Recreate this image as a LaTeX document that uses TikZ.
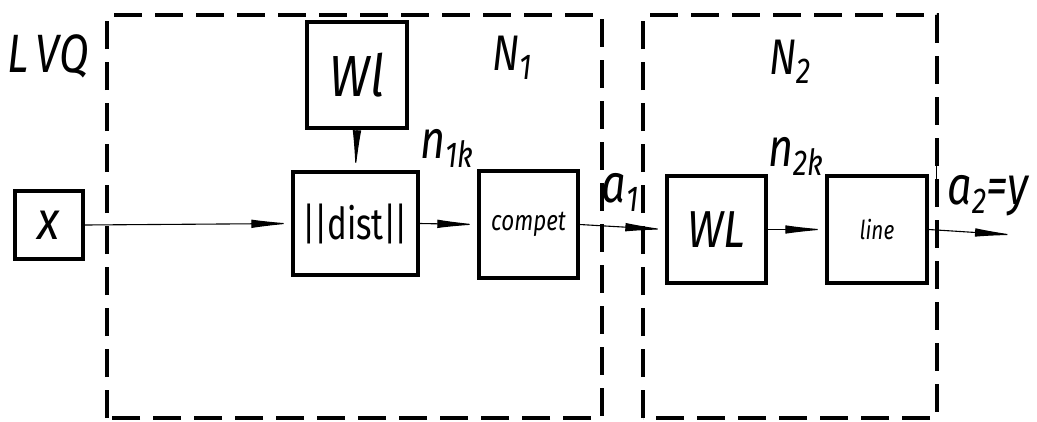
\documentclass[tikz,border=0pt]{standalone}
\usepackage{fontspec}
\setmainfont{Fira Sans}
\usetikzlibrary{arrows.meta}
\newcommand{\sbs}[1]{\raisebox{-9pt}{\fontsize{36}{36}\selectfont #1}}
\tikzset{
  blk/.style={draw, line width=3.4pt, inner sep=0pt, font=\itshape},
  grp/.style={line width=3.8pt, dash pattern=on 28pt off 13pt},
  conn/.style={line width=1.1pt, -{Latex[length=40pt,width=8.5pt]}},
  lbl/.style={inner sep=0pt, font=\itshape, xscale=0.8},
}
\begin{document}
\begin{tikzpicture}[x=1pt,y=-1pt]
\useasboundingbox (0,0) rectangle (1037,421);
% dashed groups
\draw[grp] (107,418) -- (107,15) -- (602,15) -- (602,418) -- cycle;
\draw[grp] (643,418) -- (643,15) -- (937,15) -- (937,418) -- cycle;
\draw[line width=0.8pt] (936,155) -- (936,200);
% blocks
\node[blk, minimum width=68pt, minimum height=68pt] (x) at (49,225) {\fontsize{54}{54}\selectfont\scalebox{0.85}[1]{x}};
\node[blk, minimum width=100pt, minimum height=106pt] (wl) at (357,75) {\fontsize{58}{58}\selectfont\scalebox{0.85}[1]{Wl}};
\node[blk, minimum width=125pt, minimum height=103pt] (dist) at (355.5,223.5) {\fontsize{44}{44}\selectfont\upshape\scalebox{0.75}[1]{|\kern-3pt|dist|\kern-3pt|}};
\node[blk, minimum width=99pt, minimum height=107pt] (compet) at (528.5,224.5) {\fontsize{28}{28}\selectfont\scalebox{0.8}[1]{compet}};
\node[blk, minimum width=99pt, minimum height=107pt] (WL) at (716.5,229.5) {\fontsize{52}{52}\selectfont\scalebox{0.85}[1]{WL}};
\node[blk, minimum width=100pt, minimum height=107pt] (line) at (877,229.5) {\fontsize{26}{26}\selectfont\scalebox{0.8}[1]{line}};
\coordinate (out) at (1015,235);
% connectors
\draw[conn] (x.east) -- (dist.west);
\draw[conn] (wl.south) -- (dist.north);
\draw[conn] (dist.east) -- (compet.west);
\draw[conn] (compet.east) -- (WL.west);
\draw[conn] (WL.east) -- (line.west);
\draw[conn] (line.east) -- (out);
% labels
\node[lbl] (lvq) at (48,56) {\fontsize{54}{54}\selectfont L\,VQ};
\node[lbl] (n1) at (512,58) {\fontsize{50}{50}\selectfont N\sbs{1}};
\node[lbl] (n2) at (790,62) {\fontsize{50}{50}\selectfont N\sbs{2}};
\node[lbl] (n1k) at (447,148) {\fontsize{54}{54}\selectfont n\sbs{1k}};
\node[lbl] (n2k) at (796,156) {\fontsize{54}{54}\selectfont n\sbs{2k}};
\node[lbl] (a1) at (620,192) {\fontsize{54}{54}\selectfont a\sbs{1}};
\node[lbl] (a2) at (988,196) {\fontsize{54}{54}\selectfont a\sbs{2}=y};
\end{tikzpicture}
\end{document}
